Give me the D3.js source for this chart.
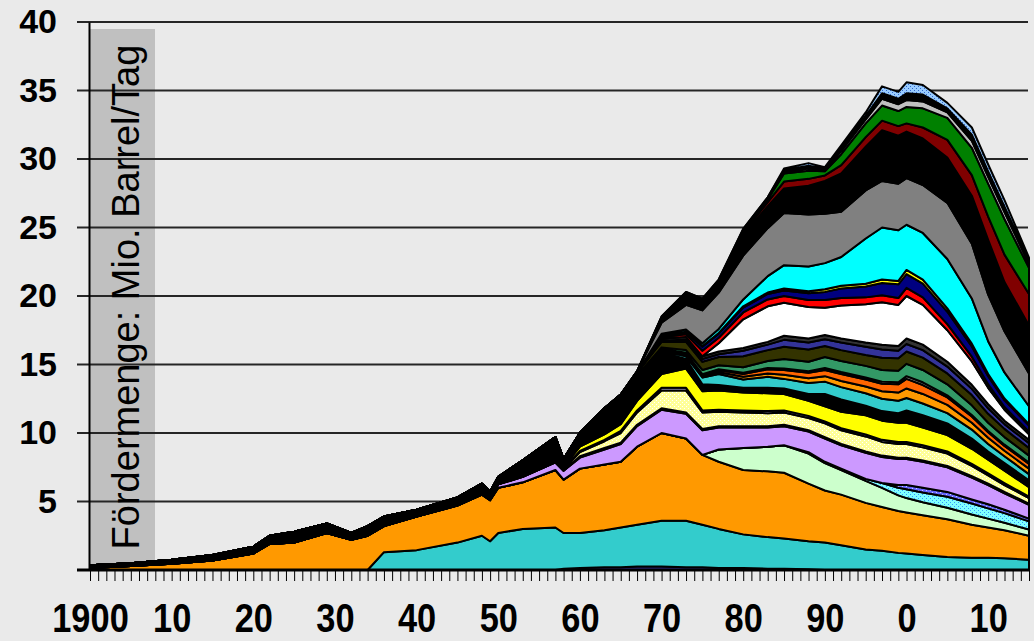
<!DOCTYPE html>
<html lang="de">
<head>
<meta charset="UTF-8">
<title>Fördermenge</title>
<script src="https://d3js.org/d3.v7.min.js"></script>
<style>
    body {
        margin: 0;
        background-color: #eaeaea;
    }
    #chart {
        width: 1034px;
        height: 641px;
    }
</style>
</head>
<body>

<div id="chart"></div>

<script>

//years of the data points
var years = [1900,1905,1910,1915,1920,1922,1925,1929,1932,1934,1936,1940,1945,1948,1949,1950,1953,1957,1958,1960,1963,1965,1967,1970,1973,1975,1977,1980,1983,1985,1988,1990,1992,1995,1997,1999,2000,2002,2005,2008,2010,2012,2015];

//layers, bottom to top (Mio. Barrel/Tag)
var navyThin = [0,0,0,0,0,0,0,0,0,0, 0,0,0,0,0,0,0,0, 0.1,0.15,0.2,0.2,0.25,0.25,0.2,0.2,0.15,0.15,0.1,0.1,0.05, 0,0,0,0,0,0,0,0,0,0,0,0];
var teal1 = [0,0,0,0,0,0,0,0,0,0, 1.3,1.45,2.0,2.5,2.1,2.7,3.0,3.1,2.6,2.55, 2.7,2.9,3.05,3.35,3.4,3.1,2.85,2.45,2.3,2.2, 2.05,2.0,1.8,1.5,1.4,1.25,1.2,1.1,0.95,0.9, 0.9,0.85,0.75];
var orange1 = [0.15,0.3,0.45,0.7,1.2,1.9,2.0,2.7,2.2,2.5, 1.9,2.45,2.7,3.0,3.0,3.3,3.4,4.2,3.9,4.7, 4.8,4.8,5.7,6.4,6.0,5.1,4.9,4.7,4.8,4.8, 4.2,3.8,3.7,3.4,3.2,3.05,3.0,2.9,2.75,2.4, 2.2,2.05,1.75];
var ltGreen = [0,0,0,0,0,0,0,0,0,0, 0,0,0,0,0,0,0,0,0,0, 0,0,0,0,0,0, 0.9,1.6,1.8,2.0,2.2,2.0,1.8,1.6,1.4,1.15,1.05,0.95,0.85,0.75,0.65,0.55,0.45];
var cyanHatch = [0,0,0,0,0,0,0,0,0,0, 0,0,0,0,0,0,0,0,0,0, 0,0,0,0,0,0,0,0,0,0, 0.1,0.1,0.1,0.15,0.35,0.55,0.65,0.7,0.8,0.8,0.75,0.7,0.6];
var blueHatch = [0,0,0,0,0,0,0,0,0,0, 0,0,0,0,0,0,0,0,0,0, 0,0,0,0,0,0,0,0,0,0, 0,0,0,0,0, 0.2,0.3,0.35,0.35,0.3,0.3,0.25,0.2];
var purple = [0,0,0,0,0,0,0,0,0,0, 0,0, 0.05,0.15,0.15,0.25,0.4,0.55,0.65,0.8, 1.1,1.3,1.5,1.7,1.8,1.8,1.6,1.5,1.4,1.4, 1.5,1.7,1.7,1.9,1.9,1.9,1.9,1.9,1.8,1.6, 1.4,1.2,1.0];
var black1 = [0,0,0,0,0,0,0,0,0,0, 0,0,0,0,0,0,0,0,0, 0.1,0.1,0.1,0.1,0.1,0.1,0.1,0.1,0.1,0.1,0.1,0.1,0.1,0.1,0.1,0.1,0.1,0.1,0.1,0.1,0.1,0.1,0.1,0.1];
var ltYellow = [0,0,0,0,0,0,0,0,0,0, 0,0,0,0,0,0,0,0, 0.1,0.3,0.5,0.7,0.9,1.3,1.6,1.2,1.05,1.0,0.95,0.9,0.9,1.0,1.0,1.1,1.0,1.0,1.0,0.95,0.9,0.75,0.6,0.5,0.4];
var lavender = [0,0,0,0,0,0,0,0,0,0, 0,0,0,0,0, 0.05,0.05,0.05,0.08,0.1,0.1,0.15,0.15,0.2,0.2, 0.15,0.15,0.15,0.15,0.15,0.15,0.15,0.15,0.15,0.15,0.15,0.15,0.15,0.15,0.15,0.15,0.15, 0.1];
var yellow1 = [0,0,0,0,0,0,0,0,0,0, 0, 0.03,0.05,0.08,0.08,0.1,0.12,0.15,0.12,0.3,0.4,0.5,0.7,1.0,1.4,1.4,1.4,1.3,1.3,1.2,1.1,1.1,1.2,1.4,1.4,1.4,1.4,1.3,1.2,1.1,1.0,0.9,0.7];
var black2 = [0.2,0.2,0.3,0.4,0.5,0.6,0.8,0.7,0.5,0.7, 0.7,0.47,0.5,0.57,0.37,0.4,1.03,1.65,0.55,1.0, 1.9,2.05,1.85,1.6,0.7,0.5,0.4,0.35,0.4,0.4, 0.5,0.9,0.9,0.7,0.7,0.7,0.9,0.9,0.85,0.75, 0.6,0.55,0.5];
var teal2 = [0,0,0,0,0,0,0,0,0,0, 0,0,0,0,0,0,0,0,0,0, 0,0,0, 0.1,0.2,0.5,0.8,0.6,0.8,0.7,0.8,0.9,0.9,0.9,0.9,0.9,0.9,0.85,0.75,0.65,0.55,0.5,0.45];
var orange2 = [0,0,0,0,0,0,0,0,0,0, 0,0,0,0,0,0,0,0,0,0, 0,0,0, 0.05,0.1,0.1,0.15,0.2,0.25,0.3,0.35,0.4,0.45,0.5,0.55,0.6,0.7,0.7,0.6,0.5,0.45,0.4,0.4];
var dkOrange = [0,0,0,0,0,0,0,0,0,0, 0,0,0,0,0,0,0,0,0,0, 0,0,0, 0.05,0.1,0.1,0.15,0.2,0.3,0.35,0.4,0.45,0.5,0.5,0.55,0.6,0.7,0.65,0.55,0.45,0.4,0.35,0.35];
var grayThin = [0,0,0,0,0,0,0,0,0,0, 0,0,0,0,0,0,0,0,0,0, 0,0,0, 0.05,0.05,0.05,0.05,0.1,0.1,0.1,0.1,0.15,0.15,0.15,0.15,0.15,0.2,0.2,0.15,0.12,0.1,0.1,0.1];
var seaGreen = [0,0,0,0,0,0,0,0,0,0, 0,0,0,0,0,0,0,0,0,0, 0,0,0, 0.1,0.2,0.3,0.3,0.4,0.5,0.7,0.7,0.8,0.8,0.85,0.85,0.85,0.9,0.9,0.8,0.7,0.6,0.55,0.5];
var olive = [0,0,0,0,0,0,0,0,0,0, 0,0,0,0,0,0,0,0,0,0, 0, 0.1,0.2,0.4,0.6,0.6,0.6,0.8,0.8,0.9,0.9,0.8,0.8,0.8,0.9,0.9,0.9,0.9,0.8,0.75,0.65,0.6,0.55];
var slateBlue = [0,0,0,0,0,0,0,0,0,0, 0,0,0,0,0,0,0,0,0,0, 0,0,0, 0.1,0.15,0.2,0.2,0.4,0.4,0.5,0.5,0.5,0.55,0.6,0.6,0.55,0.55,0.55,0.5,0.45,0.4,0.35,0.35];
var dkGray = [0,0,0,0,0,0,0,0,0,0, 0,0,0,0,0,0,0,0,0,0, 0,0,0, 0.15,0.2,0.2,0.2,0.2,0.2,0.3,0.3,0.3,0.3,0.3,0.35,0.35,0.4,0.4,0.35,0.3,0.3,0.25,0.25];
var white1 = [0,0,0,0,0,0,0,0,0,0, 0,0,0,0,0,0,0,0,0,0, 0,0,0,0,0,0, 0.6,2.1,2.6,2.4,2.3,2.0,2.4,2.8,3.1,3.0,3.1,2.9,2.3,1.7,1.2,0.8,0.4];
var red1 = [0,0,0,0,0,0,0,0,0,0, 0,0,0,0,0,0,0,0,0,0, 0,0,0, 0.1,0.2,0.4,0.4,0.5,0.5,0.5,0.5,0.55,0.55,0.5,0.5,0.5,0.6,0.55,0.45,0.35,0.25,0.2,0.2];
var navy1 = [0,0,0,0,0,0,0,0,0,0, 0,0,0,0,0,0,0,0,0,0, 0,0,0, 0.1,0.15,0.3,0.3,0.35,0.4,0.4,0.5,0.6,0.7,0.8,0.9,1.0,1.0,1.0,0.9,0.75,0.6,0.5,0.45];
var yellowThin = [0,0,0,0,0,0,0,0,0,0, 0,0,0,0,0,0,0,0,0,0, 0,0,0, 0.05,0.05,0.05,0.05,0.1,0.1,0.15,0.15,0.2,0.2,0.2,0.25,0.25,0.3,0.3,0.25,0.2,0.15,0.12,0.1];
var cyan1 = [0,0,0,0,0,0,0,0,0,0, 0,0,0,0,0,0,0,0,0,0, 0,0,0, 0.1,0.15,0.2,0.3,0.5,1.2,1.7,1.8,1.9,2.1,3.3,3.8,3.7,3.3,3.4,3.6,3.3,2.4,1.9,1.3];
var gray1 = [0,0,0,0,0,0,0,0,0,0, 0,0,0,0,0,0,0,0,0,0, 0,0, 0.1,0.8,1.8,2.4,2.65,3.2,3.5,3.8,3.8,3.6,3.3,3.5,3.4,3.4,3.4,3.5,4.1,4.0,3.4,3.0,2.4];
var black3 = [0,0,0,0,0,0,0,0,0,0, 0,0,0,0,0,0,0,0,0,0, 0,0,0, 0.3,0.6,0.5,0.5,1.55,1.6,1.8,2.1,2.4,2.8,3.2,3.7,3.5,3.4,3.4,3.3,3.5,4.0,3.6,3.5];
var darkRed = [0,0,0,0,0,0,0,0,0,0, 0,0,0,0,0,0,0,0,0,0, 0,0,0, 0,0.05,0.05,0.1,0.15,0.3,0.5,0.5,0.4,0.6,0.7,0.7,0.7,0.6,0.8,1.3,1.5,1.7,2.0,2.3];
var green1 = [0,0,0,0,0,0,0,0,0,0, 0,0,0,0,0,0,0,0,0,0, 0,0,0, 0.05,0.1,0.1,0.15,0.1,0.2,0.6,0.6,0.3,0.8,1.0,1.1,1.1,1.2,1.4,1.6,2.0,2.4,2.6,1.9];
var ltGray = [0,0,0,0,0,0,0,0,0,0, 0,0,0,0,0,0,0,0,0,0, 0,0,0, 0.05,0.1,0.1,0.1,0.05,0.05,0.1,0.15,0.1,0.25,0.3,0.5,0.5,0.5,0.5,0.4,0.5,0.5,0.5,0.3];
var black4 = [0,0,0,0,0,0,0,0,0,0, 0,0,0,0,0,0,0,0,0,0, 0,0,0, 0.05,0.1,0.1,0.1,0.1,0.1,0.15,0.2,0.1,0.2,0.25,0.4,0.4,0.5,0.5,0.3,0.45,0.4,0.4,0.25];
var ltBlueHatch = [0,0,0,0,0,0,0,0,0,0, 0,0,0,0,0,0,0,0,0,0, 0,0,0,0,0,0,0,0,0, 0.1,0.2,0.1,0.2,0.25,0.5,0.5,0.8,0.7,0.4,0.53,0.5,0.48,0.2];

//axis labels
var yTicks = [5, 10, 15, 20, 25, 30, 35, 40];
var xLabelYears = [1900, 1910, 1920, 1930, 1940, 1950, 1960, 1970, 1980, 1990, 2000, 2010];
var xLabels = ["1900", "10", "20", "30", "40", "50", "60", "70", "80", "90", "0", "10"];
var yTitle = "Fördermenge: Mio. Barrel/Tag";

//layer order and fills
var layers = [
    {key: "navyThin", values: navyThin, fill: "#333399"},
    {key: "teal1", values: teal1, fill: "#33cccc"},
    {key: "orange1", values: orange1, fill: "#ff9900"},
    {key: "ltGreen", values: ltGreen, fill: "#ccffcc"},
    {key: "cyanHatch", values: cyanHatch, fill: "url(#pCyan)"},
    {key: "blueHatch", values: blueHatch, fill: "url(#pBlue)"},
    {key: "purple", values: purple, fill: "#cc99ff"},
    {key: "black1", values: black1, fill: "#000000"},
    {key: "ltYellow", values: ltYellow, fill: "url(#pYellow)"},
    {key: "lavender", values: lavender, fill: "#ccccff"},
    {key: "yellow1", values: yellow1, fill: "#ffff00"},
    {key: "black2", values: black2, fill: "#000000"},
    {key: "teal2", values: teal2, fill: "#33cccc"},
    {key: "orange2", values: orange2, fill: "#ff9900"},
    {key: "dkOrange", values: dkOrange, fill: "#ff6600"},
    {key: "grayThin", values: grayThin, fill: "#969696"},
    {key: "seaGreen", values: seaGreen, fill: "#339966"},
    {key: "olive", values: olive, fill: "#333300"},
    {key: "slateBlue", values: slateBlue, fill: "#333399"},
    {key: "dkGray", values: dkGray, fill: "#333333"},
    {key: "white1", values: white1, fill: "#ffffff"},
    {key: "red1", values: red1, fill: "#ff0000"},
    {key: "navy1", values: navy1, fill: "#000080"},
    {key: "yellowThin", values: yellowThin, fill: "#ffff00"},
    {key: "cyan1", values: cyan1, fill: "#00ffff"},
    {key: "gray1", values: gray1, fill: "#808080"},
    {key: "black3", values: black3, fill: "#000000"},
    {key: "darkRed", values: darkRed, fill: "#800000"},
    {key: "green1", values: green1, fill: "#008000"},
    {key: "ltGray", values: ltGray, fill: "#c0c0c0"},
    {key: "black4", values: black4, fill: "#000000"},
    {key: "ltBlueHatch", values: ltBlueHatch, fill: "url(#pLtBlue)"}
];

//table for d3.stack
var table = years.map(function(yr, i) {
    var row = {year: yr};
    layers.forEach(function(l) { row[l.key] = l.values[i]; });
    return row;
});

var series = d3.stack()
    .keys(layers.map(function(l) { return l.key; }))(table);

var svg = d3.select("#chart")
    .append("svg")
        .attr("width", 1034)
        .attr("height", 641);

//hatch patterns
var defs = svg.append("defs");
function hatch(id, base, dot) {
    var p = defs.append("pattern")
        .attr("id", id)
        .attr("width", 4)
        .attr("height", 4)
        .attr("patternUnits", "userSpaceOnUse");
    p.append("rect").attr("width", 4).attr("height", 4).attr("fill", base);
    p.append("rect").attr("x", 0).attr("y", 0).attr("width", 1).attr("height", 1).attr("fill", dot);
    p.append("rect").attr("x", 2).attr("y", 2).attr("width", 1).attr("height", 1).attr("fill", dot);
}
hatch("pYellow", "#ffff99", "#ffffff");
hatch("pCyan", "#80ffff", "#3399ff");
hatch("pBlue", "#6666ff", "#ccccff");
hatch("pLtBlue", "#99ccff", "#3366cc");

//scales
var x = d3.scaleLinear()
    .domain([1900, 2015])
    .range([90, 1029]);

var y = d3.scaleLinear()
    .domain([0, 40])
    .range([570, 22]);

//grey box behind the axis title
svg.append("rect")
    .attr("x", x(1900))
    .attr("y", 29)
    .attr("width", 65)
    .attr("height", 537)
    .attr("fill", "#c0c0c0");

//gridlines
svg.selectAll("gridline")
    .data(yTicks)
    .enter()
    .append("line")
        .attr("x1", 77)
        .attr("x2", 1028)
        .attr("y1", function(d) { return y(d); })
        .attr("y2", function(d) { return y(d); })
        .attr("stroke", "#262626")
        .attr("stroke-width", 2);

//stacked areas
var area = d3.area()
    .x(function(d) { return x(d.data.year); })
    .y0(function(d) { return y(d[0]); })
    .y1(function(d) { return y(d[1]); });

svg.selectAll("layer")
    .data(series)
    .enter()
    .append("path")
        .attr("d", area)
        .attr("fill", function(d, i) { return layers[i].fill; })
        .attr("stroke", "#000")
        .attr("stroke-width", 2)
        .attr("stroke-linejoin", "round");

//axis title
svg.append("text")
    .attr("transform", "translate(139,297) rotate(-90)")
    .attr("text-anchor", "middle")
    .style("font-family", "'Liberation Sans', Arial, sans-serif")
    .style("font-size", "38px")
    .attr("fill", "#000")
    .text(yTitle);

//y axis
var yAxis = svg.append("g")
    .attr("transform", "translate(89,0)")
    .call(d3.axisLeft(y).tickValues(yTicks).tickSize(12).tickSizeOuter(0).tickPadding(20));
yAxis.select(".domain").attr("stroke", "#000").attr("stroke-width", 2);
yAxis.selectAll("line").attr("stroke", "none");
yAxis.selectAll("text")
    .style("font-family", "'Liberation Sans', Arial, sans-serif")
    .style("font-size", "34px")
    .style("font-weight", "bold")
    .attr("fill", "#000");

//x axis: yearly ticks
var xTicks = svg.append("g")
    .attr("transform", "translate(0,570)")
    .call(d3.axisBottom(x).tickValues(d3.range(1900, 2016)).tickSize(11).tickSizeOuter(0).tickFormat(""));
xTicks.select(".domain").remove();
xTicks.selectAll("line").attr("stroke", "#000").attr("stroke-width", 1);

//zero line
svg.append("line")
    .attr("x1", 77)
    .attr("x2", 1029)
    .attr("y1", y(0))
    .attr("y2", y(0))
    .attr("stroke", "#000")
    .attr("stroke-width", 3);

//x axis labels (narrow bold look)
var xAxis = svg.append("g")
    .attr("transform", "translate(0,570)")
    .call(d3.axisBottom(x).tickValues(xLabelYears).tickSize(0).tickPadding(0)
        .tickFormat(function(d, i) { return xLabels[i]; }));
xAxis.select(".domain").remove();
xAxis.selectAll("text")
    .attr("y", 0)
    .attr("dy", 0)
    .attr("transform", "translate(0,62) scale(0.86,1)")
    .style("font-family", "'Liberation Sans', Arial, sans-serif")
    .style("font-size", "40px")
    .style("font-weight", "bold")
    .attr("fill", "#000");

</script>
</body>
</html>
